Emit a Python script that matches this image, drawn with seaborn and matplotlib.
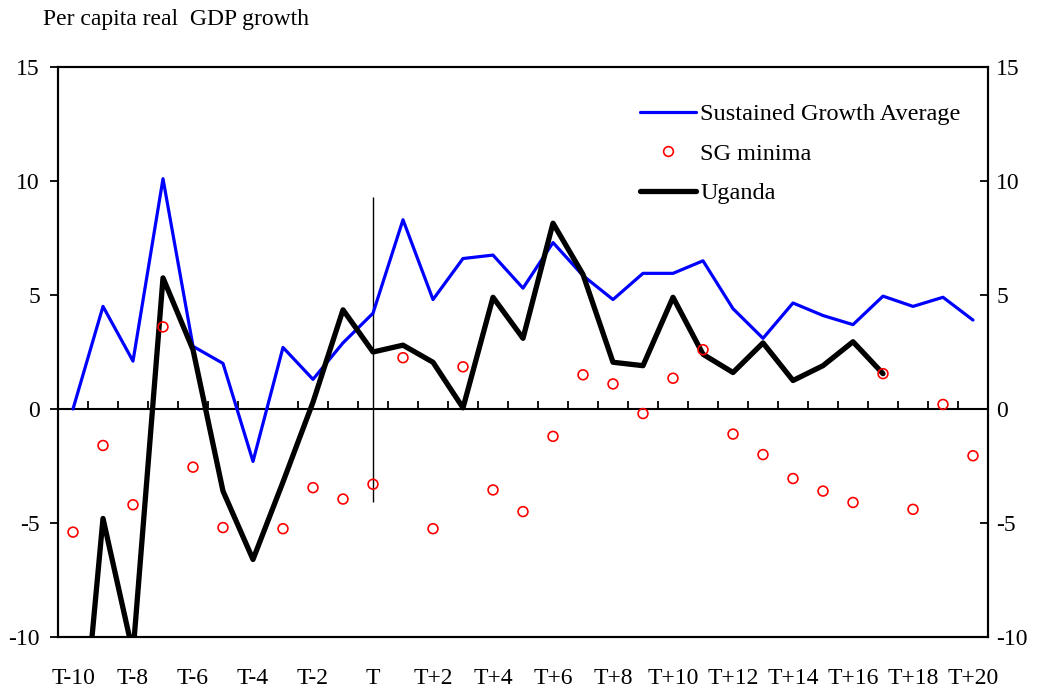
import numpy as np
import pandas as pd
import matplotlib
matplotlib.use("Agg")
import matplotlib.pyplot as plt
import seaborn as sns
from matplotlib.lines import Line2D

sns.set_theme(style="ticks")
plt.rcParams['font.family'] = ['Liberation Serif', 'DejaVu Serif']
plt.rcParams.update({'font.size': 17, 'axes.unicode_minus': False,
                     'text.color': 'black', 'xtick.color': 'black',
                     'ytick.color': 'black', 'axes.edgecolor': 'black'})

periods = [f"T{k}" for k in range(-10, 0)] + ["T"] + [f"T+{k}" for k in range(1, 21)]

sg_avg = [0.0, 4.5, 2.1, 10.1, 2.75, 2.0, -2.3, 2.7, 1.3, 2.9, 4.2,
          8.3, 4.8, 6.6, 6.75, 5.3, 7.3, 5.85, 4.8, 5.95, 5.95,
          6.5, 4.4, 3.1, 4.65, 4.1, 3.7, 4.95, 4.5, 4.9, 3.9]
sg_min = [-5.4, -1.6, -4.2, 3.6, -2.55, -5.2, np.nan, -5.25, -3.45, -3.95, -3.3,
          2.25, -5.25, 1.85, -3.55, -4.5, -1.2, 1.5, 1.1, -0.2, 1.35,
          2.6, -1.1, -2.0, -3.05, -3.6, -4.1, 1.55, -4.4, 0.2, -2.05]
uganda = [-19.0, -4.8, -10.7, 5.75, 2.6, -3.6, -6.6, -3.2, 0.3, 4.35, 2.5,
          2.8, 2.05, 0.05, 4.9, 3.1, 8.15, 5.9, 2.05, 1.9, 4.9,
          2.4, 1.6, 2.9, 1.25, 1.9, 2.95, 1.55, np.nan, np.nan, np.nan]

# marker line at T
t_pos = periods.index("T")
t_line_range = (-4.1, 9.3)

df = pd.DataFrame({'pos': np.arange(len(periods)), 'period': periods,
                   'sg_avg': sg_avg, 'sg_min': sg_min, 'uganda': uganda})

fig = plt.figure(figsize=(10.44, 6.88), dpi=100)
ax = fig.add_axes([58 / 1044, 1 - 637 / 688, 930 / 1044, 570 / 688])

sns.lineplot(data=df, x='pos', y='sg_avg', ax=ax, color='#0000ff', lw=2.3, zorder=3)
sns.lineplot(data=df.dropna(subset=['uganda']), x='pos', y='uganda', ax=ax,
             color='black', lw=3.8, zorder=4)
sns.scatterplot(data=df.dropna(subset=['sg_min']), x='pos', y='sg_min', ax=ax,
                marker='o', s=50, facecolor='none', edgecolor='#ff0000',
                linewidth=1.2, zorder=5)
ax.vlines(t_pos, *t_line_range, color='black', lw=1.0, zorder=2)

ax.set_xlim(-0.5, len(periods) - 0.5)
ax.set_ylim(-10, 15)
ax.set_xlabel('')
ax.set_ylabel('')
ax.set_yticks(range(-10, 16, 5))
ax.set_xticks(df['pos'][::2])
ax.set_xticklabels(df['period'][::2])
ax.tick_params(axis='x', length=0, pad=22, labelsize=17)
ax.tick_params(axis='y', direction='out', length=6, width=1.3, pad=7, labelsize=17)

for sp in ax.spines.values():
    sp.set_visible(True)
    sp.set_linewidth(1.5)
    sp.set_color('black')

# right axis
ax2 = ax.twinx()
ax2.set_ylim(-10, 15)
ax2.set_yticks(range(-10, 16, 5))
ax2.tick_params(axis='y', direction='in', length=6, width=1.3, pad=6, labelsize=17)
for sp in ax2.spines.values():
    sp.set_linewidth(1.5)

# zero line with category ticks
sec = ax.secondary_xaxis(10 / 25)
sec.set_xticks(np.arange(0.5, len(periods) - 1, 1))
sec.set_xticklabels([])
sec.tick_params(axis='x', direction='in', length=6, width=1.3)
sec.spines['bottom'].set_linewidth(1.5)

handles = [Line2D([], [], color='#0000ff', lw=2.3),
           Line2D([], [], color='none', marker='o', markersize=7, markerfacecolor='none',
                  markeredgecolor='#ff0000', markeredgewidth=1.2),
           Line2D([], [], color='black', lw=3.8)]
labels = ['Sustained Growth Average', 'SG minima', 'Uganda']
ax.legend(handles, labels, loc='upper left', bbox_to_anchor=(0.602, 0.975), frameon=False,
          fontsize=17.5, handlelength=2.3, handletextpad=0.2, labelspacing=0.72)

fig.text(43 / 1044, 1 - 20 / 688, 'Per capita real  GDP growth', fontsize=17, va='center', ha='left')

fig.savefig('out.png', dpi=100)
